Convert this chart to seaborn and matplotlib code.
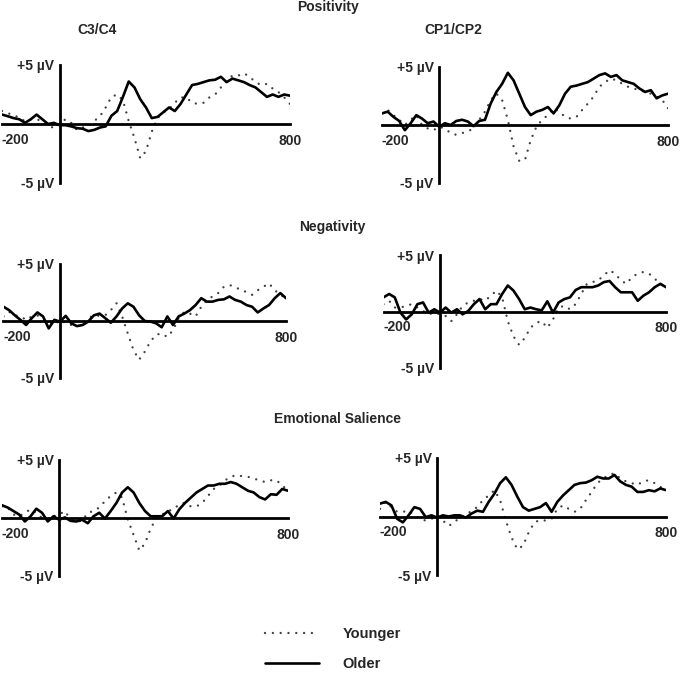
import numpy as np
import pandas as pd
import matplotlib
matplotlib.use("Agg")
import matplotlib.pyplot as plt
import seaborn as sns

# time axis (ms), one sample every 20 ms
times = np.arange(-200, 801, 20)

# Positivity, C3/C4
pos_c3_older = [0.8, 0.66, 0.5, 0.4, 0.1, 0.4, 0.8, 0.4, 0.0, 0.1, -0.1, -0.1, -0.2, -0.35, -0.4, -0.6, -0.5,
                -0.3, -0.2, 0.7, 1.1, 2.3, 3.6, 3.1, 2.1, 1.4, 0.5, 0.6, 1.0, 1.4, 1.1, 1.7, 2.5, 3.3, 3.4,
                3.55, 3.7, 3.75, 4.0, 3.55, 3.85, 3.7, 3.55, 3.3, 3.1, 2.7, 2.3, 2.5, 2.3, 2.5, 2.4]
pos_c3_younger = [1.1, 0.9, 0.8, 0.5, 0.25, 0.4, 0.4, 0.25, -0.1, -0.35, 0.0, 0.4, 0.1, -0.5, -0.3, -0.2, 0.25,
                  0.65, 1.4, 2.3, 2.5, 2.0, 0.25, -1.2, -2.9, -2.3, -0.65, 0.5, 1.0, 1.25, 1.8, 2.25, 2.25, 1.8,
                  1.7, 1.8, 2.25, 2.5, 3.1, 3.7, 4.1, 4.1, 4.3, 4.0, 3.55, 3.3, 3.4, 3.0, 2.7, 2.25, 1.7]

# Positivity, CP1/CP2
pos_cp_older = [1.0, 1.15, 0.7, 0.35, -0.45, 0.15, 0.85, 0.55, 0.15, 0.3, -0.15, 0.15, 0.0, 0.35, 0.45, 0.3,
                -0.1, 0.35, 0.45, 1.85, 2.85, 3.55, 4.5, 3.85, 2.7, 1.55, 0.85, 1.15, 1.3, 1.55, 1.0, 1.7, 2.7,
                3.3, 3.4, 3.55, 3.7, 4.0, 4.3, 4.45, 4.15, 4.3, 3.85, 3.7, 3.55, 3.15, 2.85, 3.0, 2.3, 2.55, 2.7]
pos_cp_younger = [1.0, 1.3, 0.85, 0.45, 0.0, 0.45, 0.85, 0.0, -0.3, -0.45, -0.15, -0.3, -0.7, -0.85, -0.7,
                  -0.55, -0.3, 0.45, 1.15, 2.15, 2.7, 2.15, 0.45, -1.85, -3.1, -3.0, -1.3, -0.15, 0.45, 0.85,
                  1.45, 1.15, 0.7, 0.55, 0.7, 1.3, 1.85, 2.45, 3.3, 3.7, 4.0, 3.85, 3.55, 3.3, 3.15, 3.0, 2.85,
                  2.7, 2.45, 2.15, 1.45]

# Negativity, C3/C4
neg_c3_older = [1.25, 0.95, 0.5, 0.1, -0.35, 0.25, 0.75, 0.4, -0.65, 0.1, -0.05, 0.45, -0.2, -0.45, -0.35,
                -0.05, 0.5, 0.65, 0.25, -0.15, 0.4, 1.1, 1.55, 1.25, 0.5, 0.0, -0.05, -0.2, -0.55, 0.4, -0.35,
                0.4, 0.65, 0.95, 1.4, 2.0, 1.7, 1.7, 1.85, 1.9, 2.15, 1.85, 1.7, 1.4, 1.25, 0.75, 1.1, 1.4, 2.0,
                2.45, 2.0]
neg_c3_younger = [0.4, 0.8, 0.5, 0.4, 0.1, 0.4, 0.5, 0.1, -0.05, -0.35, 0.1, -0.2, -0.35, -0.5, -0.2, 0.25,
                  0.5, 0.45, 0.5, 0.95, 1.55, 0.4, -1.1, -2.55, -3.4, -2.7, -1.8, -1.2, -1.1, -1.4, -0.8, 0.25,
                  0.8, 0.65, 0.4, 1.25, 1.85, 2.15, 2.45, 3.0, 3.15, 3.0, 2.7, 2.55, 2.3, 2.7, 3.0, 3.3, 2.7,
                  2.3, 2.0]

# Negativity, CP1/CP2
neg_cp_older = [1.25, 1.55, 1.25, -0.1, -0.7, -0.25, 0.65, 0.8, -0.1, 0.2, -0.1, 0.35, -0.1, 0.2, -0.25,
                0.05, 0.65, 1.1, 0.2, 0.65, 0.65, 1.55, 2.3, 1.85, 1.1, 0.2, 0.35, 0.2, 0.1, 0.9, -0.1, 0.8,
                1.1, 1.25, 1.9, 2.15, 2.15, 2.15, 2.3, 2.6, 2.7, 2.15, 1.7, 1.7, 1.7, 0.95, 1.4, 1.7, 2.15,
                2.45, 2.15]
neg_cp_younger = [0.65, 0.95, 0.35, 0.35, 0.5, 0.65, 0.35, 0.05, -0.25, -0.1, -0.25, -0.4, -0.85, -0.25, 0.5,
                  0.8, 0.95, 1.1, 0.95, 1.4, 1.85, 1.25, -0.85, -2.2, -2.95, -2.35, -1.45, -1.0, -0.85, -1.45,
                  -0.7, 0.35, 0.5, 0.2, 0.65, 1.55, 2.45, 2.6, 2.75, 3.2, 3.65, 3.35, 2.75, 2.45, 3.05, 3.35,
                  3.5, 3.35, 2.9, 2.45, 2.0]

# Emotional Salience, C3/C4
sal_c3_older = [1.1, 0.9, 0.6, 0.3, -0.3, 0.15, 0.8, 0.45, -0.3, 0.15, -0.15, 0.05, -0.25, -0.3, -0.15, -0.45,
                0.15, 0.45, -0.05, 0.6, 1.3, 2.2, 2.65, 2.2, 1.3, 0.6, 0.15, 0.15, 0.15, 0.6, -0.05, 0.75, 1.3,
                1.75, 2.2, 2.5, 2.8, 2.8, 2.95, 2.95, 3.1, 2.95, 2.65, 2.35, 2.2, 1.8, 1.6, 2.05, 2.0, 2.5, 2.35]
sal_c3_younger = [1.0, 0.9, 0.3, 0.15, 0.45, 0.75, 0.45, 0.0, -0.15, 0.15, 0.3, 0.6, -0.15, -0.3, -0.25, 0.45,
                  0.6, 0.9, 1.45, 1.9, 2.2, 1.75, -0.15, -1.45, -2.8, -2.2, -0.9, 0.0, 0.3, 0.6, 0.75, 1.2, 1.3,
                  1.0, 1.0, 1.3, 1.9, 2.5, 2.8, 3.25, 3.55, 3.7, 3.6, 3.55, 3.4, 3.25, 3.1, 3.25, 3.25, 2.8,
                  2.35]

# Emotional Salience, CP1/CP2
sal_cp_older = [1.1, 1.25, 0.95, -0.2, -0.5, 0.1, 0.8, 0.65, -0.05, 0.1, -0.1, 0.1, 0.0, 0.1, 0.1, -0.1, 0.25,
                0.5, 0.4, 1.25, 1.95, 2.85, 3.35, 2.7, 1.7, 0.8, 0.5, 0.65, 0.8, 1.15, 0.4, 1.25, 1.8, 2.25,
                2.7, 2.85, 2.9, 3.1, 3.4, 3.25, 3.25, 3.55, 3.0, 2.7, 2.55, 2.1, 2.1, 2.25, 2.15, 2.4, 2.25]
sal_cp_younger = [0.65, 1.25, 0.8, 0.4, 0.4, 0.5, 0.1, -0.2, -0.35, -0.2, 0.1, -0.35, -0.8, -0.5, -0.05, 0.1,
                  0.5, 0.8, 1.4, 1.8, 2.25, 1.4, -0.35, -1.8, -2.8, -2.5, -1.35, -0.5, -0.3, -0.35, -0.2, 0.65,
                  0.95, 0.65, 0.4, 0.65, 1.4, 2.1, 2.85, 3.25, 3.55, 3.7, 3.25, 3.0, 2.85, 2.7, 3.0, 3.1, 2.85,
                  2.55, 2.1]

# panels: (older, younger, axes box in pixels: x at -200, x at 800, y at +5, y at -5)
panels = [
    (pos_c3_older, pos_c3_younger, (2, 290, 65, 183)),
    (pos_cp_older, pos_cp_younger, (382, 668, 67, 183)),
    (neg_c3_older, neg_c3_younger, (3.5, 286, 264, 378)),
    (neg_cp_older, neg_cp_younger, (383.5, 666, 255, 368)),
    (sal_c3_older, sal_c3_younger, (2, 288, 460, 576)),
    (sal_cp_older, sal_cp_younger, (380, 666, 458, 575)),
]

W, H = 685, 673
sns.set_style("white")
plt.rcParams["font.family"] = ["Liberation Sans", "DejaVu Sans"]
plt.rcParams["font.weight"] = "bold"
plt.rcParams["font.size"] = 10

fig = plt.figure(figsize=(W / 100, H / 100), dpi=100)

first_ax = None
for older, younger, (x0, x1, y0, y1) in panels:
    ax = fig.add_axes([x0 / W, 1 - y1 / H, (x1 - x0) / W, (y1 - y0) / H])
    ax.patch.set_alpha(0)
    df = pd.DataFrame({"time": times, "Younger": younger, "Older": older})
    # dotted trace: round caps on near-zero dashes give round dots
    sns.lineplot(data=df, x="time", y="Younger", ax=ax, color="#404040",
                 linewidth=1.7, linestyle=(0, (0.01, 3.3)), dash_capstyle="round")
    sns.lineplot(data=df, x="time", y="Older", ax=ax, color="black", linewidth=1.9)
    ax.set_xlim(-200, 800)
    ax.set_ylim(-5, 5)
    ax.set_xlabel("")
    ax.set_ylabel("")
    for s in ["top", "right"]:
        ax.spines[s].set_visible(False)
    ax.spines["left"].set_position(("data", 0))
    ax.spines["bottom"].set_position(("data", 0))
    for s in ["left", "bottom"]:
        ax.spines[s].set_linewidth(2)
        ax.spines[s].set_color("black")
    ax.set_xticks([200, 400, 600, 800])
    ax.set_xticklabels(["", "", "", "800"], fontweight="bold")
    ax.tick_params(axis="x", direction="out", length=4, width=1.5, pad=3, labelsize=10)
    ax.set_yticks([5, -5])
    ax.set_yticklabels(["+5 µV", "-5 µV"], fontweight="bold")
    ax.tick_params(axis="y", length=0, pad=4, labelsize=10)
    ax.text(-200, -0.75, "-200", ha="left", va="top", fontsize=10, fontweight="bold")
    if first_ax is None:
        first_ax = ax

# titles
def ftext(x, y, s):
    fig.text(x / W, 1 - y / H, s, ha="center", va="center", fontsize=10, fontweight="bold")

ftext(328, 7, "Positivity")
ftext(97, 30, "C3/C4")
ftext(453, 30, "CP1/CP2")
ftext(332, 227, "Negativity")
ftext(338, 419, "Emotional Salience")

# legend
handles = first_ax.get_lines()[:2]
fig.legend(handles, ["Younger", "Older"], loc="center",
           bbox_to_anchor=(333 / W, 1 - 649 / H), frameon=False,
           handlelength=3.7, handletextpad=1.6, labelspacing=1.1,
           prop={"weight": "bold", "size": 10.5})

fig.savefig("out.png", dpi=100, facecolor="white")
